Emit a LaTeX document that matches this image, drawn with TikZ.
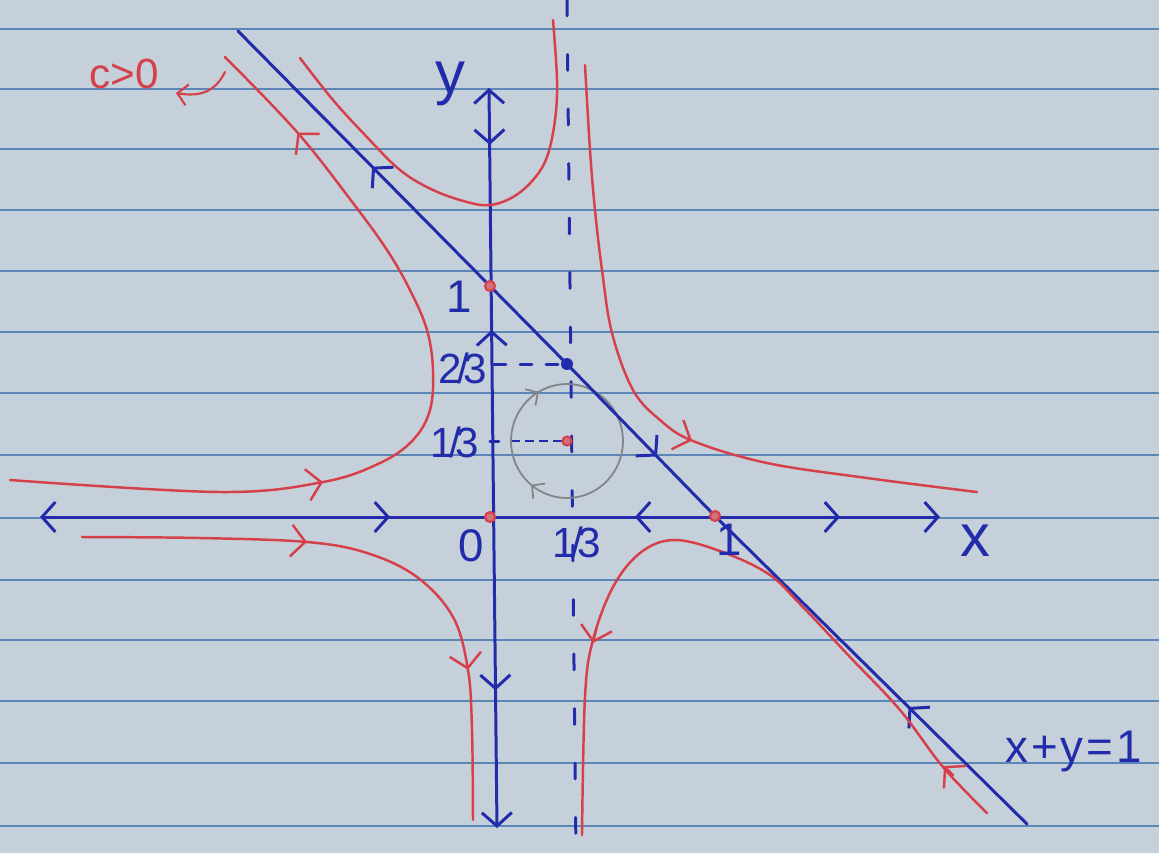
\documentclass[tikz,border=0pt]{standalone}
\usepackage{fontspec}
\setmainfont{Liberation Sans}
\usepackage{tikz}
\usetikzlibrary{arrows.meta, decorations.markings, positioning}
\definecolor{PaperGray}{RGB}{198,208,218}
\definecolor{RuleBlue}{RGB}{92,134,184}
\definecolor{InkBlue}{RGB}{34,44,170}
\definecolor{InkRed}{RGB}{214,64,74}
\definecolor{PencilGray}{RGB}{130,132,136}

\begin{document}
\begin{tikzpicture}[
  x=0.01cm, y=-0.01cm,
  font=\fontsize{13}{15}\selectfont,
  blueink/.style={InkBlue, line width=0.85pt, line cap=round,
                  >={Straight Barb[length=3.8pt, width=8.5pt]}},
  redink/.style={InkRed, line width=0.7pt, line cap=round,
                 >={Straight Barb[length=4pt, width=9pt]}},
  pencil/.style={PencilGray, line width=0.5pt,
                 >={Straight Barb[length=2.6pt, width=5.5pt]}},
  fwd/.style={postaction={decorate, decoration={markings,
              mark=at position #1 with {\arrow{>}}}}},
  bwd/.style={postaction={decorate, decoration={markings,
              mark=at position #1 with {\arrowreversed{>}}}}},
  lbl/.style={text=InkBlue, inner sep=0pt},
  fraclbl/.style={lbl, font=\fontsize{12}{14}\selectfont},
  axislbl/.style={lbl, font=\fontsize{17}{19}\selectfont},
  redlbl/.style={lbl, text=InkRed, font=\fontsize{12}{14}\selectfont},
  reddot/.style={draw=InkRed, fill=InkRed!65!PaperGray, line width=0.6pt},
]

% ruled paper
\fill[PaperGray] (0,0) rectangle (1159,853);
\useasboundingbox (0,0) rectangle (1159,853);
\foreach \ry in {29,89,149,210,271,332,393,455,518,580,640,701,763,826}
  \draw[RuleBlue, line width=0.4pt] (0,\ry) -- (1159,\ry);

% fixed points and axis ends
\coordinate (O)  at (490,517);
\coordinate (Py) at (490,286);
\coordinate (Px) at (715,516);
\coordinate (Pc) at (567,441);
\coordinate (Pm) at (567,364);
\coordinate (xl) at (40,517);
\coordinate (xr) at (940,517);
\coordinate (yt) at (489,88);
\coordinate (yb) at (497,828);
\coordinate (ltop) at (238,31);
\coordinate (lbot) at (1027,824);
\coordinate (vtop) at (567,0);
\coordinate (vbot) at (576,853);

% dashed guides
\draw[blueink, dash pattern=on 4.5pt off 11pt] (vtop) -- (vbot);
\draw[blueink, dash pattern=on 3.4pt off 4pt] (494,364) -- (Pm);
\draw[InkBlue, line width=0.35pt, dash pattern=on 2.5pt off 1.5pt] (511,441) -- (Pc);
\draw[blueink] (490,441) -- (499,441);

% closed orbit round the centre
\draw[pencil, fwd=0.36, fwd=0.667]
  plot[domain=0:360, samples=73] ({567+56*cos(\x)}, {441+57*sin(\x)});

% axes
\draw[blueink, <->, fwd=0.389, bwd=0.661, fwd=0.889] (xl) -- (xr);
\draw[blueink, <->, fwd=0.077, bwd=0.327, fwd=0.814] (yt) -- (yb);

% line x+y=1
\draw[blueink, bwd=0.171, fwd=0.534, bwd=0.852]
  (ltop) -- (Py) -- (Pm) -- (Px) -- (lbot);

% level curves
\draw[redink, fwd=0.36, fwd=0.88] plot[smooth, tension=0.6] coordinates {
  (10,480) (220,492) (323,482) (380,463) (413,440) (430,410) (433,370)
  (427,330) (410,290) (387,250) (353,203) (297,132) (225,57)};
\draw[redink] plot[smooth, tension=0.6] coordinates {
  (300,58) (333,100) (365,135) (400,170) (433,190) (467,202) (490,205)
  (513,197) (533,180) (547,157) (555,120) (557,80) (553,20)};
\draw[redink, fwd=0.585] plot[smooth, tension=0.6] coordinates {
  (585,65) (590,150) (595,210) (602,270) (612,333) (633,390) (660,420)
  (693,441) (767,463) (867,478) (977,492)};
\draw[redink, fwd=0.374, fwd=0.75] plot[smooth, tension=0.6] coordinates {
  (82,537) (200,538) (307,542) (367,553) (417,577) (453,617) (468,670)
  (472,730) (473,820)};
\draw[redink] plot[smooth, tension=0.6] coordinates {
  (987,813) (943,767) (900,710) (850,657) (800,604) (767,573) (717,550)
  (673,540) (640,553) (613,587) (593,640) (585,697) (582,835)};
\draw[redink, ->] (953,775) -- (944,766);
\draw[redink, ->] (597,626) -- (593,643);

% dots
\filldraw[reddot] (O) circle[radius=5];
\filldraw[reddot] (Py) circle[radius=5];
\filldraw[reddot] (Px) circle[radius=5];
\filldraw[reddot] (Pc) circle[radius=4.5];
\fill[InkBlue] (Pm) circle[radius=6];

% labels
\node[axislbl] (ylab) at (450,84) {y};
\node[axislbl] (xlab) at (975,541) {x};
\node[lbl] (yone) at (459,297) {1};
\node[fraclbl] (ytwo) at (463,368) {2\kern-1.5pt/\kern-1.5pt3};
\node[fraclbl] (ythird) at (455,442) {1\kern-1.5pt/\kern-1.5pt3};
\node[lbl] (zero) at (471,546) {0};
\node[fraclbl] (xthird) at (577,542) {1\kern-1.5pt/\kern-1.5pt3};
\node[lbl] (xone) at (729,540) {1};
\node[lbl, anchor=base west] (linelab) at (1005,762)
  {x\kern0.8pt+\kern0.8pt y\kern0.8pt=\kern0.8pt1};
\node[redlbl] (clab) at (124,74) {c>0};

% pointer to the level curves
\coordinate (ctail) at (225,72);
\coordinate (chead) at (176,93);
\draw[redink, line width=0.6pt, -{Straight Barb[length=2.8pt, width=6pt]}]
  (ctail) .. controls (215,92) and (200,97) .. (chead);

\end{tikzpicture}
\end{document}
